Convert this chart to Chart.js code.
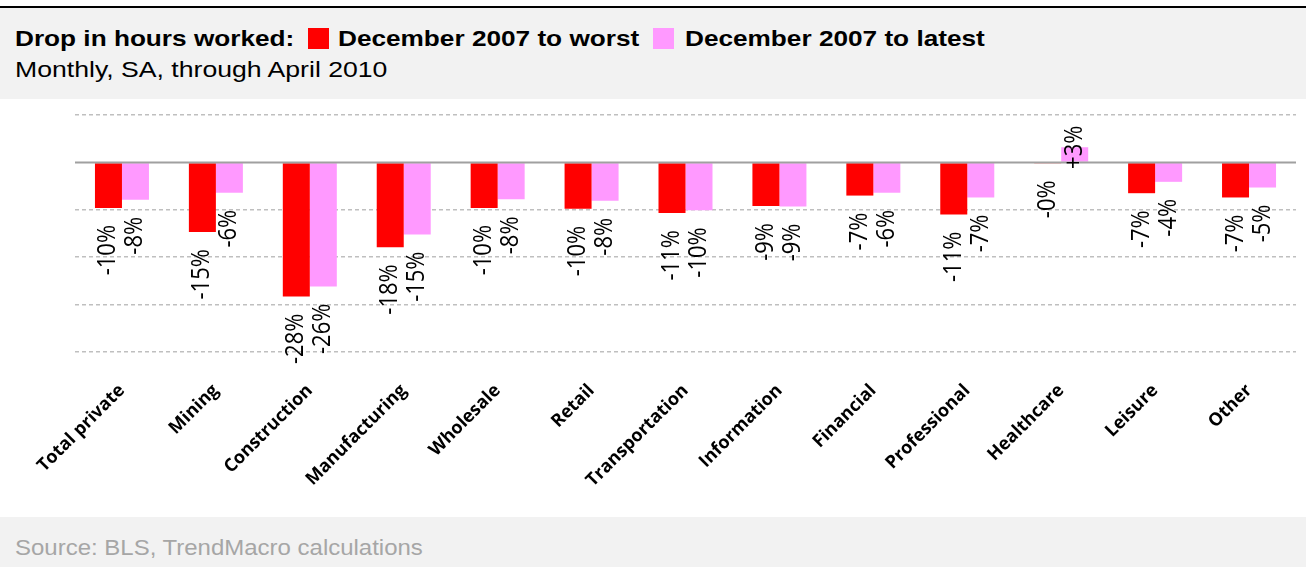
<!DOCTYPE html>
<html>
<head>
<meta charset="utf-8">
<script src="https://cdn.jsdelivr.net/npm/chart.js@4"></script>
<style>
    body { margin: 0; background: #fff; width: 1306px; height: 567px; position: relative; overflow: hidden; }
    .header { position: absolute; left: 0; top: 6px; width: 1306px; height: 91px; background: #f2f2f2; border-top: 2px solid #000; }
    .footer { position: absolute; left: 0; top: 517px; width: 1306px; height: 50px; background: #f2f2f2; }
    .txt { position: absolute; white-space: nowrap; font-family: "Liberation Sans", Arial, sans-serif; line-height: 1; transform-origin: 0 0; }
    .title { font-size: 22px; font-weight: bold; color: #000; }
    .sub { font-size: 22px; color: #000; }
    .src { font-size: 22px; color: #a6a6a6; }
    .sq { position: absolute; width: 21px; height: 21px; }
    #wrap { position: absolute; left: 0; top: 99px; width: 1306px; height: 418px; }
</style>
</head>
<body>
<div class="header">
    <span class="txt title" style="left:15px; top:20px; transform:scaleX(1.19)">Drop in hours worked:</span>
    <span class="sq" style="left:308px; top:20px; background:#ff0000"></span>
    <span class="txt title" style="left:338px; top:20px; transform:scaleX(1.19)">December 2007 to worst</span>
    <span class="sq" style="left:653px; top:20px; background:#ff99ff"></span>
    <span class="txt title" style="left:685px; top:20px; transform:scaleX(1.19)">December 2007 to latest</span>
    <span class="txt sub" style="left:15px; top:51px; transform:scaleX(1.21)">Monthly, SA, through April 2010</span>
</div>
<div id="wrap"><canvas id="chart" width="1306" height="418"></canvas></div>
<div class="footer">
    <span class="txt src" style="left:15px; top:20px; transform:scaleX(1.09)">Source: BLS, TrendMacro calculations</span>
</div>
<script>
    // Sectors and % change in hours worked since Dec 2007
    var sectors = ['Total private', 'Mining', 'Construction', 'Manufacturing', 'Wholesale', 'Retail',
        'Transportation', 'Information', 'Financial', 'Professional', 'Healthcare', 'Leisure', 'Other'];
    var toWorst = [-9.6, -14.7, -28.3, -17.9, -9.6, -9.8, -10.7, -9.2, -7.0, -11.0, -0.2, -6.5, -7.4];
    var toLatest = [-7.9, -6.4, -26.2, -15.2, -7.8, -8.1, -10.1, -9.3, -6.4, -7.4, 3.2, -4.1, -5.3];
    var yTicks = [10, 0, -10, -20, -30, -40];

    var labelFont = '"Open Sans", "DejaVu Sans", sans-serif';

    function fmtPct(v) {
        var sign = v < 0 ? '-' : '+';
        return sign + Math.round(Math.abs(v)) + '%';
    }

    // solid zero line over the bars
    var zeroLine = {
        id: 'zeroLine',
        afterDatasetsDraw: function (chart) {
            var ctx = chart.ctx;
            var area = chart.chartArea;
            var y = chart.scales.y.getPixelForValue(0);
            ctx.save();
            ctx.strokeStyle = '#a0a0a0';
            ctx.lineWidth = 2;
            ctx.beginPath();
            ctx.moveTo(area.left, y);
            ctx.lineTo(area.right, y);
            ctx.stroke();
            ctx.restore();
        }
    };

    // vertical value labels like the Excel original
    var barLabels = {
        id: 'barLabels',
        afterDraw: function (chart) {
            var ctx = chart.ctx;
            ctx.save();
            ctx.fillStyle = '#000';
            ctx.font = '22px ' + labelFont;
            ctx.textBaseline = 'middle';
            chart.data.datasets.forEach(function (ds, di) {
                chart.getDatasetMeta(di).data.forEach(function (bar, i) {
                    var v = ds.data[i];
                    ctx.save();
                    if (v < 0) {
                        ctx.translate(bar.x, bar.y + 17);
                        ctx.textAlign = 'right';
                    } else {
                        ctx.translate(bar.x, bar.y);
                        ctx.textAlign = 'center';
                    }
                    ctx.scale(1.12, 1);
                    ctx.rotate(-Math.PI / 2);
                    ctx.fillText(fmtPct(v), 0, 0);
                    ctx.restore();
                });
            });
            ctx.restore();
        }
    };

    var ctx = document.getElementById('chart');
    new Chart(ctx, {
        type: 'bar',
        data: {
            labels: sectors,
            datasets: [{
                label: 'December 2007 to worst',
                data: toWorst,
                backgroundColor: '#ff0000',
                barPercentage: 1,
                categoryPercentage: 0.575
            }, {
                label: 'December 2007 to latest',
                data: toLatest,
                backgroundColor: '#ff99ff',
                barPercentage: 1,
                categoryPercentage: 0.575
            }]
        },
        options: {
            responsive: false,
            animation: false,
            devicePixelRatio: 1,
            layout: {
                padding: { top: 16, right: 10, bottom: 0, left: 0 }
            },
            plugins: {
                legend: { display: false },
                tooltip: { enabled: false }
            },
            scales: {
                x: {
                    grid: { display: false },
                    border: { display: false },
                    ticks: {
                        autoSkip: false,
                        maxRotation: 45,
                        minRotation: 45,
                        padding: 20,
                        color: '#000',
                        font: { family: labelFont, size: 18, weight: 'bold' }
                    },
                    afterFit: function (s) { s.height = 165; }
                },
                y: {
                    min: yTicks[yTicks.length - 1],
                    max: yTicks[0],
                    afterBuildTicks: function (s) {
                        s.ticks = yTicks.map(function (v) { return { value: v }; });
                    },
                    ticks: { display: false },
                    grid: {
                        drawTicks: false,
                        lineWidth: 1.5,
                        color: function (c) {
                            return c.tick && c.tick.value === 0 ? 'rgba(0,0,0,0)' : '#bfbfbf';
                        }
                    },
                    border: { display: false, dash: [4, 3] },
                    afterFit: function (s) { s.width = 75; }
                }
            }
        },
        plugins: [zeroLine, barLabels]
    });
</script>
</body>
</html>
